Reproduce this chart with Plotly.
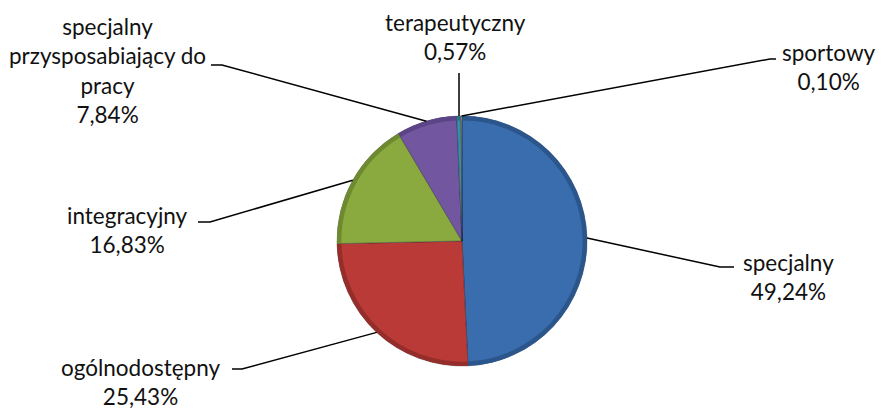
import math
import plotly.graph_objects as go

categories = ["specjalny", "ogólnodostępny", "integracyjny",
              "specjalny przysposabiający do pracy", "terapeutyczny", "sportowy"]
values = [49.24, 25.43, 16.83, 7.84, 0.57, 0.10]
label_texts = ["specjalny<br>49,24%", "ogólnodostępny<br>25,43%", "integracyjny<br>16,83%",
               "specjalny<br>przysposabiający do<br>pracy<br>7,84%", "terapeutyczny<br>0,57%",
               "sportowy<br>0,10%"]
colors = ["#3A6DAD", "#B93A36", "#8AAA40", "#7257A0", "#2F91AA", "#E8893A"]
edge_colors = ["#2B568C", "#952D2A", "#6D8A31", "#5B4586", "#237688", "#C0702E"]

W, H = 893, 410
CX, CY, R = 462, 241, 125

# label layout (pixel positions): text center, elbow point, line end near text
label_pos = [
    dict(tx=788, ty=277, elbow=(720, 267), end=(734, 267)),
    dict(tx=140, ty=382, elbow=(242, 369), end=(232, 369)),
    dict(tx=127, ty=230, elbow=(210, 222), end=(198, 222)),
    dict(tx=107, ty=70, elbow=(222, 65), end=(211, 65)),
    dict(tx=455, ty=37, elbow=(459, 73), end=(459, 73)),
    dict(tx=829, ty=67, elbow=(770, 59), end=(776, 59)),
]


def px(x):
    return x / W


def py(y):
    return 1 - y / H


domain = dict(x=[px(CX - R), px(CX + R)], y=[py(CY + R), py(CY - R)])

fig = go.Figure()
fig.add_trace(go.Pie(
    labels=categories, values=values, sort=False, direction="clockwise", rotation=0,
    marker=dict(colors=colors, line=dict(color="rgba(20,20,40,0.35)", width=1)),
    textinfo="none", hoverinfo="label+percent", domain=domain,
))
# darker outer rim (bevel look)
fig.add_trace(go.Pie(
    labels=categories, values=values, sort=False, direction="clockwise", rotation=0,
    hole=0.965, marker=dict(colors=edge_colors, line=dict(width=0)),
    textinfo="none", hoverinfo="skip", domain=domain,
))

total = sum(values)
cum = 0.0
shapes = []
annotations = []
for v, txt, lp in zip(values, label_texts, label_pos):
    mid = (cum + v / 2) / total * 2 * math.pi
    cum += v
    ex = CX + R * math.sin(mid)
    ey = CY - R * math.cos(mid)
    ebx, eby = lp["elbow"]
    enx, eny = lp["end"]
    path = f"M {px(ex)},{py(ey)} L {px(ebx)},{py(eby)} L {px(enx)},{py(eny)}"
    shapes.append(dict(type="path", xref="paper", yref="paper", path=path,
                       line=dict(color="black", width=1.5)))
    annotations.append(dict(x=px(lp["tx"]), y=py(lp["ty"]), xref="paper", yref="paper",
                            text=txt, showarrow=False, xanchor="center", yanchor="middle",
                            align="center", font=dict(family="Lato", size=22.5, color="#111111")))

fig.update_layout(
    width=W, height=H, margin=dict(l=0, r=0, t=0, b=0),
    paper_bgcolor="white", plot_bgcolor="white", showlegend=False,
    shapes=shapes, annotations=annotations,
)

fig.write_html("out.html", config={"displayModeBar": False},
               post_script="document.body.style.margin='0';")
